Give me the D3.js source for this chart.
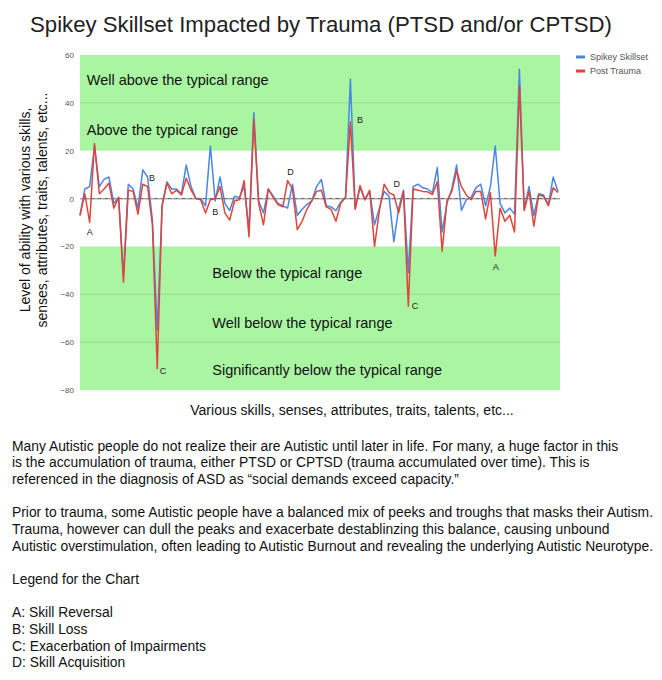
<!DOCTYPE html>
<html><head><meta charset="utf-8">
<script src="https://cdn.jsdelivr.net/npm/d3@7"></script>
<style>
html,body{margin:0;padding:0;background:#fff;}
svg text{font-family:"Liberation Sans",Arial,sans-serif;}
</style></head>
<body>
<svg id="chart" width="662" height="680"></svg>
<script>
// ---------- data ----------
const categories = d3.range(1, 101);
const spikeySkillset = [-7,4,5,22,5,8,9,-2,0.5,-32,6,4,-4,12,9,-9,-55,-3,7,4,4,2,14,5,0,0,-3,22,-1,9,-2,-5,1,0.5,5,-13,36,-1,-6,4,1,-2,-3,-4,6,-7,-4.5,-2.5,-1,5,8,-3,-3.5,-5,-1.5,0.5,50,-4,4.5,-0.5,3,-11,-4,3,1,-18,-4,3.5,-31,5,6,4.5,4,2.5,13,-14,-2,4,14,-5,-0.5,0.5,4.5,6,-3,5,22,-2,-6,-4,-6.5,54,-4.5,5,-7,2,1.5,-2.5,9,3];
const postTrauma = [-7,2,-10,23,2,4,6.5,-4,0.5,-35,3.5,3,-6.5,6,5,-11,-71,-3,6.5,2,3.5,1.5,8.5,3.5,0,-0.5,-6,-0.5,0,5,-6,-9,-1,-0.5,7.5,-16,33,-2,-11,4,0.5,-2.5,-3.5,7.5,4,-13,-9.5,-4.5,-1,3,3.5,-3.5,-4.5,-9.5,-2,0.5,32,-4.5,5.5,-0.5,3.5,-20,-5,6,2.5,1.5,-6,3,-45,4,3.5,3,2.8,1.7,7,-22,-1,3,11.5,5,1.5,-0.5,3,3,-8.5,2.5,-24,-4,-9.5,-7,-14,47,-5,3,-11.5,1.5,1,-3,4.5,2.5];
const yTicks = [60,40,20,0,-20,-40,-60,-80];
const greenBands = [[20,60],[-80,-20]];
const bandGridlines = [40,-40,-60];
const bandLabels = [
  {text:"Well above the typical range", i:1.4, v:49.6},
  {text:"Above the typical range", i:1.4, v:28.8},
  {text:"Below the typical range", i:27.4, v:-31},
  {text:"Well below the typical range", i:27.4, v:-52},
  {text:"Significantly below the typical range", i:27.4, v:-71.5}
];
const markers = [
  {t:"A", i:2.0, v:-13.8},{t:"B", i:14.9, v:8.8},{t:"B", i:28, v:-5.4},
  {t:"B", i:58, v:33},{t:"C", i:17.2, v:-71.8},{t:"C", i:69.4, v:-45},
  {t:"D", i:43.6, v:11.3},{t:"D", i:65.6, v:6},{t:"A", i:86.1, v:-28.5}
];
const seriesNames = ["Spikey Skillset","Post Trauma"];
const seriesColors = ["#4a86e8","#e0443a"];
const paragraphs = [
  "Many Autistic people do not realize their are Autistic until later in life. For many, a huge factor in this",
  "is the accumulation of trauma, either PTSD or CPTSD (trauma accumulated over time). This is",
  "referenced in the diagnosis of ASD as \u201csocial demands exceed capacity.\u201d",
  "",
  "Prior to trauma, some Autistic people have a balanced mix of peeks and troughs that masks their Autism.",
  "Trauma, however can dull the peaks and exacerbate destablinzing this balance, causing unbound",
  "Autistic overstimulation, often leading to Autistic Burnout and revealing the underlying Autistic Neurotype.",
  "",
  "Legend for the Chart",
  "",
  "A: Skill Reversal",
  "B: Skill Loss",
  "C: Exacerbation of Impairments",
  "D: Skill Acquisition"
];

// ---------- drawing ----------
const svg = d3.select("#chart");
svg.append("rect").attr("width",662).attr("height",680).attr("fill","#fff");

const x = d3.scaleLinear().domain([0, categories.length-1]).range([80, 558]);
const y = d3.scaleLinear().domain([-80, 60]).range([390, 55]);
const plotLeft = 80, plotRight = 560;

// title
svg.append("text").attr("x",30).attr("y",32).attr("font-size",22.2).attr("fill","#222")
  .text("Spikey Skillset Impacted by Trauma (PTSD and/or CPTSD)");

// green bands
svg.selectAll("rect.band").data(greenBands).join("rect").attr("class","band")
  .attr("x",plotLeft).attr("width",plotRight-plotLeft)
  .attr("y",d=>y(d[1])).attr("height",d=>y(d[0])-y(d[1]))
  .attr("fill","#aaf5a2");
svg.selectAll("line.bg").data(bandGridlines).join("line").attr("class","bg")
  .attr("x1",plotLeft).attr("x2",plotRight).attr("y1",d=>y(d)).attr("y2",d=>y(d))
  .attr("stroke","#93dc8c").attr("stroke-width",1);

// y axis ticks
const yAxis = d3.axisLeft(y).tickValues(yTicks).tickSize(0).tickPadding(6);
const gy = svg.append("g").attr("transform",`translate(${plotLeft},0)`).call(yAxis);
gy.select(".domain").remove();
gy.selectAll("text").attr("font-size",8).attr("fill","#555").attr("font-family","Liberation Sans, Arial, sans-serif");

// band labels
svg.selectAll("text.bl").data(bandLabels).join("text").attr("class","bl")
  .attr("x",d=>x(d.i)).attr("y",d=>y(d.v)).attr("dy","0.35em")
  .attr("font-size",14.5).attr("fill","#111").text(d=>d.text);

// zero line
svg.append("line").attr("x1",plotLeft).attr("x2",plotRight).attr("y1",y(0)).attr("y2",y(0))
  .attr("stroke","#666").attr("stroke-width",1.3);
svg.append("line").attr("x1",plotLeft).attr("x2",plotRight).attr("y1",y(0)).attr("y2",y(0))
  .attr("stroke","#aaa").attr("stroke-width",1).attr("stroke-dasharray","4,3");

// lines
const line = d3.line().x((d,i)=>x(i)).y(d=>y(d));
[spikeySkillset, postTrauma].forEach((s,k)=>{
  svg.append("path").datum(s).attr("d",line).attr("fill","none")
    .attr("stroke",seriesColors[k]).attr("stroke-width",1.5).attr("stroke-linejoin","round");
});

// markers
svg.selectAll("text.mk").data(markers).join("text").attr("class","mk")
  .attr("x",d=>x(d.i)).attr("y",d=>y(d.v)).attr("dy","0.35em").attr("text-anchor","middle")
  .attr("font-size",9).attr("fill","#222").text(d=>d.t);

// legend
const lg = svg.append("g").attr("transform","translate(576,57)");
seriesNames.forEach((n,k)=>{
  lg.append("line").attr("x1",0).attr("x2",9).attr("y1",k*14).attr("y2",k*14)
    .attr("stroke",seriesColors[k]).attr("stroke-width",3);
  lg.append("text").attr("x",14).attr("y",k*14).attr("dy","0.35em").attr("font-size",9)
    .attr("fill","#555").text(n);
});

// axis titles
svg.append("text").attr("x",352).attr("y",410).attr("dy","0.35em").attr("text-anchor","middle")
  .attr("font-size",14).attr("fill","#111").text("Various skills, senses, attributes, traits, talents, etc...");
const yt = svg.append("text").attr("transform","translate(33,210) rotate(-90)")
  .attr("text-anchor","middle").attr("font-size",14).attr("fill","#111");
yt.append("tspan").attr("x",0).attr("y",-8).attr("dy","0.35em").text("Level of ability with various skills,");
yt.append("tspan").attr("x",0).attr("y",9).attr("dy","0.35em").text("senses, attributes, traits, talents, etc...");

// paragraphs
const lineH = 16.65;
svg.selectAll("text.p").data(paragraphs).join("text").attr("class","p")
  .attr("x",12).attr("y",(d,i)=>446 + i*lineH).attr("dy","0.35em")
  .attr("font-size",13.85).attr("fill","#111").text(d=>d);
</script>
</body></html>
